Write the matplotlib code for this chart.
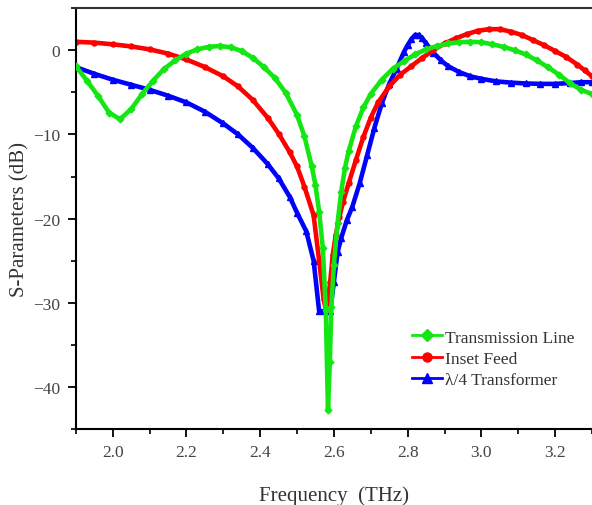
import matplotlib
matplotlib.use('Agg')
import matplotlib.pyplot as plt

plt.rcParams['font.family'] = ['Liberation Serif', 'DejaVu Serif']
plt.rcParams['axes.unicode_minus'] = True

# Transmission Line (green)
f_tl = [1.90, 1.93, 1.96, 1.99, 2.02, 2.05, 2.08, 2.11, 2.14, 2.17, 2.20, 2.23,
        2.26, 2.29, 2.32, 2.35, 2.38, 2.41, 2.44, 2.47, 2.50, 2.52, 2.54, 2.55,
        2.56, 2.57, 2.578, 2.584, 2.589, 2.593, 2.600, 2.61, 2.62, 2.63, 2.64,
        2.66, 2.68, 2.70, 2.73, 2.76, 2.79, 2.82, 2.85, 2.88, 2.91, 2.94, 2.97,
        3.00, 3.03, 3.06, 3.09, 3.12, 3.15, 3.18, 3.21, 3.24, 3.27, 3.30]
s_tl = [-1.9, -3.6, -5.4, -7.4, -8.2, -7.0, -5.2, -3.6, -2.2, -1.2, -0.4, 0.1,
        0.4, 0.5, 0.35, -0.1, -0.9, -2.0, -3.3, -5.1, -7.7, -10.2, -13.8, -16.0,
        -19.2, -23.5, -30.8, -42.7, -37.0, -30.5, -25.5, -20.5, -16.8, -14.0, -12.0,
        -9.0, -6.8, -5.2, -3.5, -2.2, -1.3, -0.5, 0.1, 0.5, 0.8, 0.95, 1.0,
        0.95, 0.7, 0.4, 0.0, -0.5, -1.2, -2.0, -2.9, -3.9, -4.7, -5.2]

# Inset Feed (red)
f_if = [1.90, 1.95, 2.00, 2.05, 2.10, 2.15, 2.20, 2.25, 2.30, 2.34, 2.38, 2.42,
        2.45, 2.48, 2.50, 2.52, 2.545, 2.56, 2.572, 2.578, 2.584, 2.59, 2.597,
        2.605, 2.615, 2.625, 2.64, 2.66, 2.68, 2.70, 2.72, 2.75, 2.78, 2.81, 2.84,
        2.87, 2.90, 2.93, 2.96, 2.99, 3.02, 3.05, 3.08, 3.11, 3.14, 3.17, 3.20,
        3.23, 3.26, 3.28, 3.30]
s_if = [1.0, 0.9, 0.7, 0.45, 0.1, -0.4, -1.1, -2.0, -3.1, -4.3, -5.9, -8.0,
        -9.9, -12.1, -13.8, -16.2, -19.6, -25.0, -29.5, -30.8, -29.8, -27.5, -24.3,
        -22.0, -19.8, -18.0, -15.8, -13.0, -10.3, -8.0, -6.2, -4.3, -2.9, -1.9, -0.9,
        0.0, 0.8, 1.4, 1.9, 2.3, 2.5, 2.5, 2.2, 1.8, 1.2, 0.6, -0.1,
        -0.8, -1.7, -2.4, -3.1]

# lambda/4 Transformer (blue)
f_qw = [1.90, 1.95, 2.00, 2.05, 2.10, 2.15, 2.20, 2.25, 2.30, 2.34, 2.38, 2.42,
        2.45, 2.48, 2.50, 2.525, 2.545, 2.56, 2.575, 2.59, 2.60, 2.61, 2.62,
        2.635, 2.65, 2.67, 2.69, 2.71, 2.73, 2.75, 2.77, 2.79, 2.80, 2.81, 2.82,
        2.83, 2.84, 2.85, 2.87, 2.89, 2.91, 2.94, 2.97, 3.00, 3.04, 3.08, 3.12,
        3.16, 3.20, 3.24, 3.27, 3.30]
s_qw = [-2.0, -2.8, -3.5, -4.1, -4.7, -5.4, -6.2, -7.3, -8.7, -10.0, -11.6, -13.5,
        -15.2, -17.4, -19.3, -21.5, -25.0, -31.0, -31.0, -31.0, -27.5, -24.0, -22.3,
        -20.2, -18.6, -15.8, -12.5, -9.2, -6.3, -4.0, -2.2, -0.2, 0.6, 1.3, 1.8,
        1.8, 1.4, 0.8, -0.3, -1.2, -1.9, -2.6, -3.1, -3.4, -3.7, -3.85, -3.95,
        -4.0, -4.0, -3.9, -3.8, -3.8]

fig = plt.figure(figsize=(5.92, 5.06), dpi=100)
ax = fig.add_axes([0.128, 0.150, 0.872, 0.832])

ax.plot(f_tl, s_tl, color='#14e614', marker='D', markersize=3.4, lw=3.3,
        label='Transmission Line', zorder=3)
ax.plot(f_if, s_if, color='#ff0000', marker='o', markersize=3.6, lw=3.3,
        label='Inset Feed', zorder=2)
ax.plot(f_qw, s_qw, color='#0000ff', marker='^', markersize=3.8, lw=3.3,
        label='\u03bb/4 Transformer', zorder=1)

ax.set_xlim(1.9, 3.3)
ax.set_ylim(-45, 5)
ax.set_xticks([2.0, 2.2, 2.4, 2.6, 2.8, 3.0, 3.2])
ax.set_xticks([1.9, 2.1, 2.3, 2.5, 2.7, 2.9, 3.1, 3.3], minor=True)
ax.set_yticks([-40, -30, -20, -10, 0])
ax.set_yticks([-45, -35, -25, -15, -5, 5], minor=True)
ax.tick_params(which='major', direction='out', length=6, width=1.3, pad=5,
               labelsize=12.5, labelcolor='#444444')
ax.tick_params(which='minor', direction='out', length=3.5, width=1.2)
ax.spines['right'].set_visible(False)
for s in ['left', 'bottom', 'top']:
    ax.spines[s].set_linewidth(1.5)
ax.spines['top'].set_color('#333333')

ax.set_xlabel('Frequency  (THz)', fontsize=15, labelpad=18, color='#333333')
ax.set_ylabel('S-Parameters (dB)', fontsize=15, labelpad=3, color='#333333')

leg = ax.legend(loc='center left', bbox_to_anchor=(0.651, 0.167), frameon=False,
                fontsize=12.5, handlelength=1.75, handletextpad=0.15,
                labelspacing=0.3, borderpad=0, borderaxespad=0)
for h in leg.legend_handles:
    h.set_markersize(6.5)
    h.set_linewidth(2)
for t in leg.get_texts():
    t.set_color('#333333')

fig.savefig('out.png', dpi=100)
